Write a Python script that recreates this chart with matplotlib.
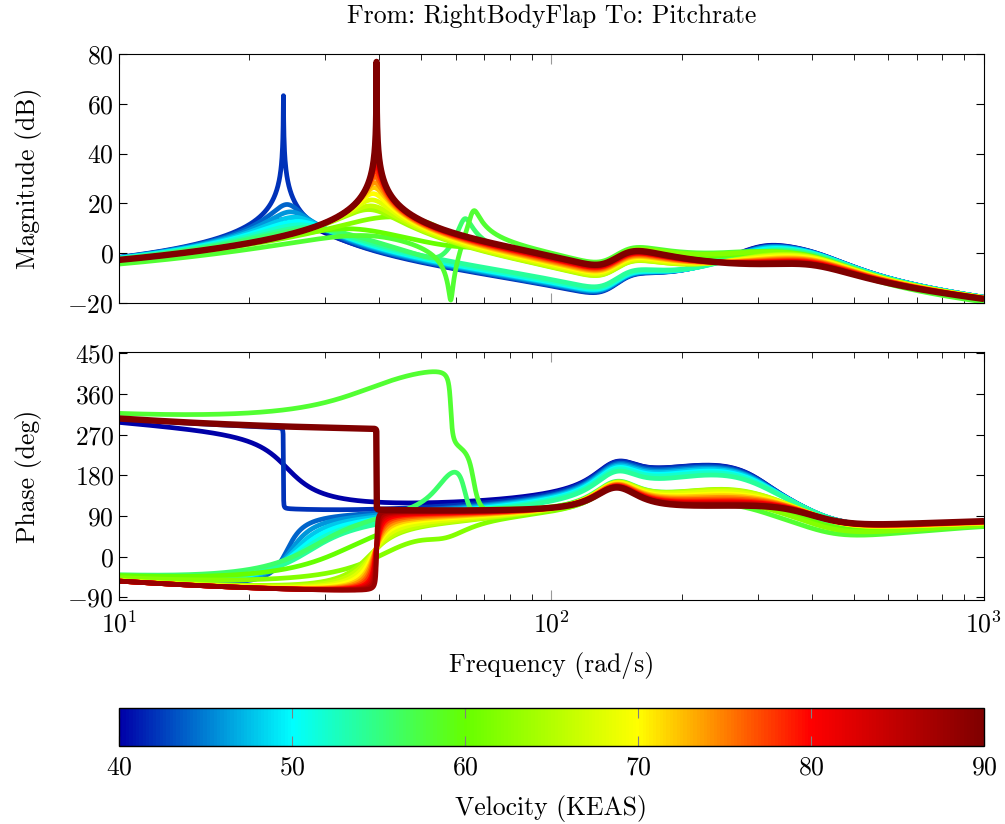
import numpy as np
import matplotlib
matplotlib.use("Agg")
import matplotlib.pyplot as plt
from matplotlib.colors import LinearSegmentedColormap, Normalize
from matplotlib.cm import ScalarMappable
from matplotlib.ticker import LogLocator, NullFormatter

FS = 18.5
plt.rcParams.update({
    'font.family': 'cmr10',
    'mathtext.fontset': 'cm',
    'axes.formatter.use_mathtext': True,
    'font.size': FS,
})

# velocity sweep (KEAS), one curve per entry
velocity = [40, 42, 44, 46, 48, 50, 52, 54, 56, 58, 60, 62, 64,
            66, 68, 70, 72, 74, 76, 78, 80, 82, 84, 86, 88, 90]

mode_freq = [24.5, 24.0, 24.5, 25.0, 25.5, 26.0, 26.5, 27.5, 28.5, 38.0, 34.0, 42.0, 38.0,
             38.3, 38.5, 38.7, 38.9, 39.0, 39.1, 39.2, 39.3, 39.3, 39.35, 39.4, 39.4, 39.4]
mode_damp = [0.14, 0.00045, -0.07, -0.10, -0.13, -0.16, -0.19, -0.22, -0.25, -0.35, -0.30, -0.25, -0.13,
             -0.11, -0.085, -0.065, -0.05, -0.04, -0.031, -0.024, -0.018, -0.013, -0.009, -0.006, -0.003, 0.00016]

# zero / pole pair between 30 and 70 rad/s (level shift, dips and spikes of the green curves)
pair_zero_freq = [34, 34, 34, 34, 34, 34, 34, 34, 56, 58.5, 63, 59, 60,
                  60, 60, 60, 60, 60, 60, 60, 60, 60, 60, 60, 60, 60]
pair_zero_damp = [0.7, 0.7, 0.7, 0.7, 0.7, 0.7, 0.7, 0.7, 0.1, -0.008, 0.25, 0.15, 0.7,
                  0.7, 0.7, 0.7, 0.7, 0.7, 0.7, 0.7, 0.7, 0.7, 0.7, 0.7, 0.7, 0.7]
pair_pole_freq = [30, 30, 30, 30, 30, 30, 30, 30, 63, 66, 68, 55, 47.7,
                  47.7, 48.9, 50.5, 51.6, 52.8, 54.0, 55.3, 56.3, 57.3, 58.3, 59.0, 59.7, 60]
pair_pole_damp = [0.7, 0.7, 0.7, 0.7, 0.7, 0.7, 0.7, 0.7, 0.03, 0.025, 0.25, 0.15, 0.7,
                  0.7, 0.7, 0.7, 0.7, 0.7, 0.7, 0.7, 0.7, 0.7, 0.7, 0.7, 0.7, 0.7]

# damping of the ~310 rad/s bump
bump_damp = [0.19, 0.195, 0.2, 0.205, 0.21, 0.22, 0.23, 0.24, 0.25, 0.26, 0.27, 0.28, 0.29,
             0.30, 0.31, 0.33, 0.35, 0.37, 0.39, 0.41, 0.43, 0.45, 0.46, 0.47, 0.48, 0.5]

# gain offset of each curve (dB)
gain_offset = [0, 0, 0, 0, 0, 0, 0, 0, 0, -1.5, 0, 0, 0,
               0, 0, 0, 0, 0, 0, 0, 0, 0, 0, 0, 0, 0]

# phase branch shown by the plot (deg)
phase_branch = [360, 360, 0, 0, 0, 0, 0, 0, 0, 360, 0, 0, 0,
                0, 0, 0, 0, 0, 0, 0, 0, 0, 0, 0, 0, 360]

mag_ticks = [-20, 0, 20, 40, 60, 80]
phase_ticks = [-90, 0, 90, 180, 270, 360, 450]
cbar_ticks = [40, 50, 60, 70, 80, 90]


def quad(s, w, z):
    return s**2 + 2*z*w*s + w**2


def response(i, w):
    s = 1j*w
    # common part of every curve
    base = 10**((gain_offset[i] - 8.1)/20) * (1 - s/7)
    base *= quad(s, 133, 0.13) / quad(s, 150, 0.13) * (150/133)**2
    base *= quad(s, 400, 0.5) / quad(s, 400, 0.25)
    wp, zp = mode_freq[i], mode_damp[i]
    we1, ze1 = pair_zero_freq[i], pair_zero_damp[i]
    we2, ze2 = pair_pole_freq[i], pair_pole_damp[i]
    wb = 310.0
    wa = wp*wb*(we2/we1)/39.4
    m = wp**2/quad(s, wp, zp)
    m *= quad(s, we1, ze1)/quad(s, we2, ze2)*(we2/we1)**2
    m *= quad(s, wa, 0.5)/wa**2 * wb**2/quad(s, wb, bump_damp[i])
    return base*m


cmap = LinearSegmentedColormap.from_list(
    'vel', [(0.0, (0, 0, 0.66)), (0.2, (0, 1, 1)), (0.4, (0.4, 1, 0)),
            (0.6, (1, 1, 0)), (0.8, (1, 0, 0)), (1.0, (0.5, 0, 0))])
norm = Normalize(40, 90)

fig = plt.figure(figsize=(10.05, 8.24), dpi=100)
ax1 = fig.add_axes([0.1184, 0.6323, 0.8607, 0.3022])
ax2 = fig.add_axes([0.1184, 0.2718, 0.8607, 0.3010])
cax = fig.add_axes([0.1184, 0.0947, 0.8607, 0.0461])

wgrid = np.logspace(1, 3, 3000)
for i, v in enumerate(velocity):
    w = np.union1d(wgrid, [mode_freq[i], pair_zero_freq[i]])
    g = response(i, w)
    mag = 20*np.log10(np.abs(g))
    ph = np.degrees(np.unwrap(np.angle(g)))
    ph = ph - 360*np.round(ph[0]/360) + phase_branch[i]
    lw = 4.6 if v == 90 else 3.4
    c = cmap(norm(v))
    ax1.plot(w, mag, color=c, lw=lw, solid_capstyle='butt')
    ax2.plot(w, ph, color=c, lw=lw, solid_capstyle='butt')

for ax in (ax1, ax2):
    ax.set_xscale('log')
    ax.set_xlim(10, 1000)
    ax.xaxis.set_minor_locator(LogLocator(base=10, subs=np.arange(2, 10)))
    ax.xaxis.set_minor_formatter(NullFormatter())
    ax.tick_params(which='both', direction='in', top=True, right=True)
    ax.tick_params(which='major', length=6)
    ax.tick_params(axis='x', which='major', color='0.6', length=7, pad=8)
    ax.tick_params(which='minor', length=4)

ax1.set_ylim(-20, 80)
ax1.set_yticks(mag_ticks)
ax1.tick_params(labelbottom=False)
ax1.set_ylabel('Magnitude (dB)', labelpad=18)
ax1.set_title('From: RightBodyFlap To: Pitchrate', fontsize=FS, pad=22)

ax2.set_ylim(-96, 453)
ax2.set_yticks(phase_ticks)
ax2.set_ylabel('Phase (deg)', labelpad=18)
ax2.set_xlabel('Frequency (rad/s)', labelpad=10)

sm = ScalarMappable(norm=norm, cmap=cmap)
cb = fig.colorbar(sm, cax=cax, orientation='horizontal')
cb.set_ticks(cbar_ticks)
cb.outline.set_linewidth(1.0)
cax.tick_params(direction='in', color='0.5', length=7, top=True, bottom=True,
                labeltop=False, pad=7)
cb.set_label('Velocity (KEAS)', labelpad=11)

fig.savefig('out.png', dpi=100)
